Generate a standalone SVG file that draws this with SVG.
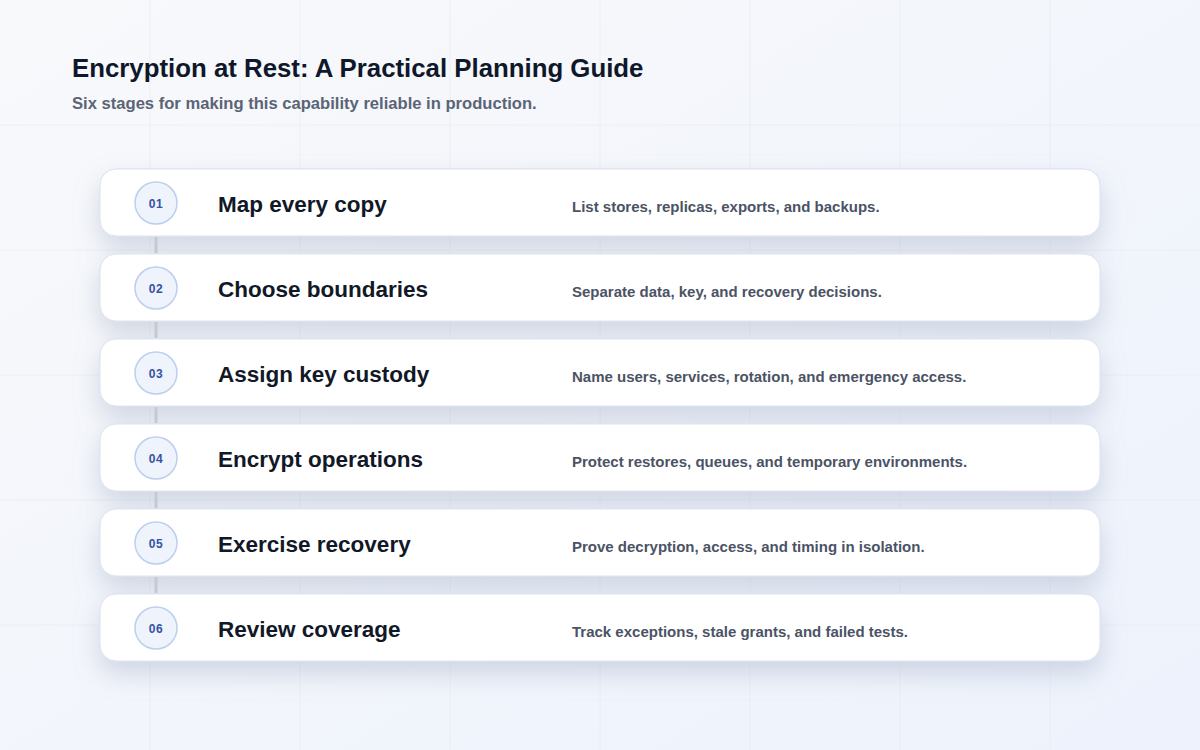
<svg xmlns="http://www.w3.org/2000/svg" width="1200" height="750" viewBox="0 0 1200 750">
  <defs>
    <linearGradient id="bg" x1="0" y1="0" x2="1" y2="1">
      <stop offset="0" stop-color="#f8f9fb"/>
      <stop offset="1" stop-color="#edf2fc"/>
    </linearGradient>
    <filter id="shadow" x="-10%" y="-60%" width="120%" height="280%">
      <feDropShadow dx="0" dy="12" stdDeviation="13" flood-color="#8a97b3" flood-opacity="0.34"/>
    </filter>
    <style>
      .grid { stroke: #e6eaf1; stroke-width: 1; opacity: 0.7; }
      .card { fill: #ffffff; stroke: #dde3ee; stroke-width: 1; }
      .badge { fill: #eef3fc; stroke: #bccfee; stroke-width: 1.5; }
      .num { font-family: "Liberation Sans", Arial, sans-serif; font-weight: bold; font-size: 12px; fill: #3452a3; text-anchor: middle; letter-spacing: 0.5px; }
      .title { font-family: "Liberation Sans", Arial, sans-serif; font-weight: bold; font-size: 22.5px; fill: #111827; }
      .desc { font-family: "Liberation Sans", Arial, sans-serif; font-weight: bold; font-size: 15px; fill: #4b5365; }
      .conn { stroke: #c5c9d1; stroke-width: 3; }
    </style>
  </defs>
  <rect width="1200" height="750" fill="url(#bg)"/>
  <g id="grid">
    <line class="grid" x1="150" y1="0" x2="150" y2="750"/>
    <line class="grid" x1="300" y1="0" x2="300" y2="750"/>
    <line class="grid" x1="450" y1="0" x2="450" y2="750"/>
    <line class="grid" x1="600" y1="0" x2="600" y2="750"/>
    <line class="grid" x1="750" y1="0" x2="750" y2="750"/>
    <line class="grid" x1="900" y1="0" x2="900" y2="750"/>
    <line class="grid" x1="1050" y1="0" x2="1050" y2="750"/>
    <line class="grid" x1="0" y1="125" x2="1200" y2="125"/>
    <line class="grid" x1="0" y1="250" x2="1200" y2="250"/>
    <line class="grid" x1="0" y1="375" x2="1200" y2="375"/>
    <line class="grid" x1="0" y1="500" x2="1200" y2="500"/>
    <line class="grid" x1="0" y1="625" x2="1200" y2="625"/>
  </g>
  <g id="header">
    <text x="72" y="77" font-family="Liberation Sans, Arial, sans-serif" font-weight="bold" font-size="25.8" fill="#0f172a">Encryption at Rest: A Practical Planning Guide</text>
    <text x="72" y="109" font-family="Liberation Sans, Arial, sans-serif" font-weight="bold" font-size="16.6" fill="#5b6477">Six stages for making this capability reliable in production.</text>
  </g>
  <g id="cards-shadow" filter="url(#shadow)">
    <rect class="card" x="100" y="169" width="1000" height="67" rx="16"/>
    <rect class="card" x="100" y="254" width="1000" height="67" rx="16"/>
    <rect class="card" x="100" y="339" width="1000" height="67" rx="16"/>
    <rect class="card" x="100" y="424" width="1000" height="67" rx="16"/>
    <rect class="card" x="100" y="509" width="1000" height="67" rx="16"/>
    <rect class="card" x="100" y="594" width="1000" height="67" rx="16"/>
  </g>
  <g id="connectors">
    <line class="conn" x1="156" y1="237" x2="156" y2="253"/>
    <line class="conn" x1="156" y1="322" x2="156" y2="338"/>
    <line class="conn" x1="156" y1="407" x2="156" y2="423"/>
    <line class="conn" x1="156" y1="492" x2="156" y2="508"/>
    <line class="conn" x1="156" y1="577" x2="156" y2="593"/>
  </g>
  <g id="step-01">
    <rect class="card" x="100" y="169" width="1000" height="67" rx="16"/>
    <circle class="badge" cx="156" cy="203" r="21"/>
    <text class="num" x="156" y="207.5">01</text>
    <text class="title" x="218" y="212">Map every copy</text>
    <text class="desc" x="572" y="212">List stores, replicas, exports, and backups.</text>
  </g>
  <g id="step-02">
    <rect class="card" x="100" y="254" width="1000" height="67" rx="16"/>
    <circle class="badge" cx="156" cy="288" r="21"/>
    <text class="num" x="156" y="292.5">02</text>
    <text class="title" x="218" y="297">Choose boundaries</text>
    <text class="desc" x="572" y="297">Separate data, key, and recovery decisions.</text>
  </g>
  <g id="step-03">
    <rect class="card" x="100" y="339" width="1000" height="67" rx="16"/>
    <circle class="badge" cx="156" cy="373" r="21"/>
    <text class="num" x="156" y="377.5">03</text>
    <text class="title" x="218" y="382">Assign key custody</text>
    <text class="desc" x="572" y="382">Name users, services, rotation, and emergency access.</text>
  </g>
  <g id="step-04">
    <rect class="card" x="100" y="424" width="1000" height="67" rx="16"/>
    <circle class="badge" cx="156" cy="458" r="21"/>
    <text class="num" x="156" y="462.5">04</text>
    <text class="title" x="218" y="467">Encrypt operations</text>
    <text class="desc" x="572" y="467">Protect restores, queues, and temporary environments.</text>
  </g>
  <g id="step-05">
    <rect class="card" x="100" y="509" width="1000" height="67" rx="16"/>
    <circle class="badge" cx="156" cy="543" r="21"/>
    <text class="num" x="156" y="547.5">05</text>
    <text class="title" x="218" y="552">Exercise recovery</text>
    <text class="desc" x="572" y="552">Prove decryption, access, and timing in isolation.</text>
  </g>
  <g id="step-06">
    <rect class="card" x="100" y="594" width="1000" height="67" rx="16"/>
    <circle class="badge" cx="156" cy="628" r="21"/>
    <text class="num" x="156" y="632.5">06</text>
    <text class="title" x="218" y="637">Review coverage</text>
    <text class="desc" x="572" y="637">Track exceptions, stale grants, and failed tests.</text>
  </g>
</svg>
